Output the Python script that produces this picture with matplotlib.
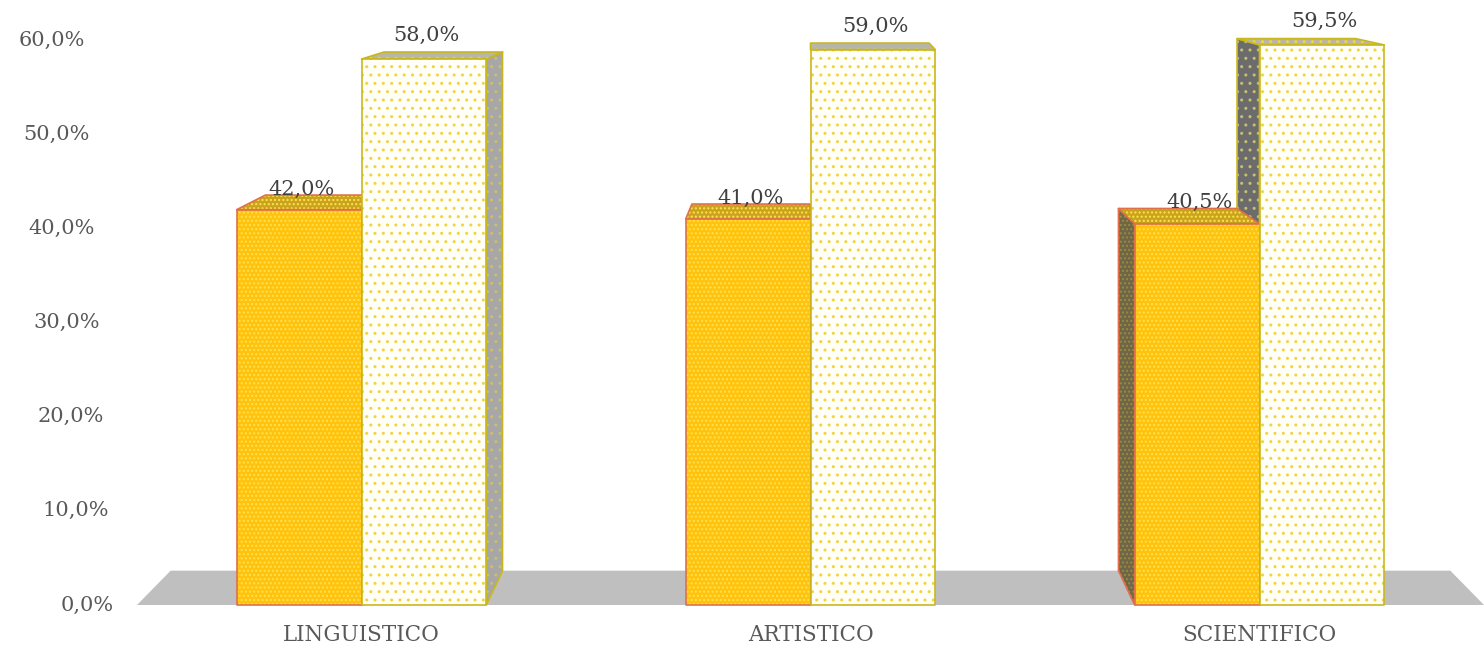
import numpy as np
import matplotlib.pyplot as plt
from matplotlib.patches import Polygon
from matplotlib.transforms import offset_copy

categories = ["LINGUISTICO", "ARTISTICO", "SCIENTIFICO"]
series_a = [0.420, 0.410, 0.405]   # orange bars
series_b = [0.580, 0.590, 0.595]   # light dotted bars
yticks = [0.0, 0.1, 0.2, 0.3, 0.4, 0.5, 0.6]

# simple one-point perspective: back face = front face pulled toward VP
VP = np.array([1.0, 0.73])
DEPTH = 0.05
BAR_W = 0.278

TXT = "#595959"
plt.rcParams["font.family"] = ["DejaVu Serif"]


def back(p):
    p = np.asarray(p, float)
    return p + DEPTH * (VP - p)


def face(ax, pts, fill, hatch=None, hcolor=None, edge=None, lw=1.2, z=2):
    ax.add_patch(Polygon(pts, closed=True, facecolor=fill, edgecolor="none",
                         lw=0, zorder=z, clip_on=False))
    if hatch:
        ax.add_patch(Polygon(pts, closed=True, facecolor="none", edgecolor=hcolor,
                             hatch=hatch, lw=0, zorder=z, clip_on=False))
    if edge:
        ax.add_patch(Polygon(pts, closed=True, facecolor="none", edgecolor=edge,
                             lw=lw, zorder=z, clip_on=False, joinstyle="round"))


def box_faces(x0, x1, h):
    f = [np.array(p, float) for p in [(x0, 0), (x1, 0), (x1, h), (x0, h)]]
    b = [back(p) for p in f]
    top = [f[3], f[2], b[2], b[3]]
    right = [f[1], f[2], b[2], b[1]]
    left = [f[0], f[3], b[3], b[0]]
    return f, top, left, right


styles = {
    "a": dict(front="#FFC20E", fhatch="....", fh="#FFE24D", edge="#E0704A",
              top="#C9A21E", side_l="#6E6646", side_r="#6E6646",
              shatch="....", sh="#9A8A40", lab_dy=0),
    "b": dict(front="#FFFFF8", fhatch="..", fh="#F2D340", edge="#C9B81C",
              top="#B8B6A8", side_r="#A7A7A7", side_l="#6C6C6C",
              shatch="..", sh="#C8C070", lab_dy=11),
}

fig = plt.figure(figsize=(14.84, 6.49), dpi=100)
ax = fig.add_axes([137 / 1484, 44 / 649, 1 - 137 / 1484, (605 - 12) / 649])
ax.set_xlim(-0.5, 2.5)
ax.set_ylim(0, 0.63)
ax.axis("off")

# floor
fl = [(-0.5, 0.0), (2.5, 0.0), tuple(back((2.5, 0.0))), tuple(back((-0.5, 0.0)))]
face(ax, fl, "#BFBFBF", z=1)

x = np.arange(len(categories))
bars = []
for i, cx in enumerate(x):
    bars.append(("a", cx - BAR_W, cx, series_a[i]))
    bars.append(("b", cx, cx + BAR_W, series_b[i]))

# sides first
for key, x0, x1, h in bars:
    st = styles[key]
    front, top, left, right = box_faces(x0, x1, h)
    if x1 < VP[0]:
        face(ax, right, st["side_r"], st["shatch"], st["sh"], st["edge"], z=2)
    if x0 > VP[0]:
        face(ax, left, st["side_l"], st["shatch"], st["sh"], st["edge"], z=2)
# then tops
for key, x0, x1, h in bars:
    st = styles[key]
    front, top, left, right = box_faces(x0, x1, h)
    face(ax, top, st["top"], st["fhatch"], st["fh"], st["edge"], z=3)
# then fronts
for key, x0, x1, h in bars:
    st = styles[key]
    front, top, left, right = box_faces(x0, x1, h)
    face(ax, front, st["front"], st["fhatch"], st["fh"], st["edge"], z=4)

# data labels
for key, x0, x1, h in bars:
    btop = back(((x0 + x1) / 2, h))
    tr = offset_copy(ax.transData, fig=fig, x=0, y=styles[key]["lab_dy"], units="dots")
    ax.text((x0 + x1) / 2 + 0.005, btop[1] - 0.004,
            f"{h * 100:.1f}%".replace(".", ","), ha="center", va="bottom",
            fontsize=15, color="#404040", zorder=6, transform=tr)

# y tick labels, staggered along slanted wall edge
for v in yticks:
    xr = -0.551 - (v / 0.6) * 0.065
    ax.text(xr, v, f"{v * 100:.1f}%".replace(".", ","), ha="right", va="center",
            fontsize=15, color=TXT, clip_on=False)

# category labels
for cx, name in zip(x, categories):
    ax.text(cx, -0.032, name, ha="center", va="center", fontsize=15.5,
            color=TXT, clip_on=False)

fig.savefig("out.png", dpi=100)
